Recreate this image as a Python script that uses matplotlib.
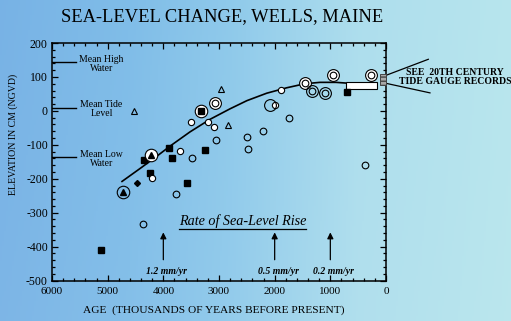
import numpy as np
import matplotlib
matplotlib.use("Agg")
import matplotlib.pyplot as plt
from matplotlib.patches import Rectangle
from matplotlib.ticker import MultipleLocator

plt.rcParams['font.family'] = ['Liberation Serif', 'DejaVu Serif']
plt.rcParams['axes.unicode_minus'] = False

# ---- sample data (age in years BP, elevation in cm NGVD)
sq_age = [5125, 4347, 4239, 3892, 3850, 3569, 3251, 706]
sq_elev = [-409, -146, -182, -108, -138, -213, -114, 56]

dot_age = [4203, 3700, 3508, 3203, 3084, 1988, 1892]
dot_elev = [-197, -118, -34, -34, -48, 17, 61]

ring_age = [4359, 3772, 3491, 3054, 2503, 2473, 2215, 1748, 371]
ring_elev = [-333, -244, -138, -85, -77, -113, -60, -22, -160]

bull_age = [3072, 1455, 957, 275]
bull_elev = [22, 81, 105, 107]

dbl_age = [1323, 1090]
dbl_elev = [58, 54]

tri_age = [4527, 2964, 2833]
tri_elev = [0, 64, -42]

ctri_white_age = [4227]
ctri_white_elev = [-131]
ctri_open_age = [4719]
ctri_open_elev = [-239]

csq_age = [3323]
csq_elev = [0]

dia_age = [4473]
dia_elev = [-214]

big_age = [2085]
big_elev = [17]

# smoothed sea-level curve
curve_age = [4742, 4419, 4119, 3880, 3521, 3162, 2802, 2500, 2143, 1784, 1455, 1186, 900, 724]
curve_elev = [-208, -170, -134, -104, -62, -25, 6, 30, 52, 68, 80, 84, 84, 82]

# late range box and tide gauge box
box_age = [720, 160]
box_elev = [63, 86]
gauge_age = [110, -5]
gauge_elev = [76, 108]

# tidal datums
datum_names = ['Mean High\nWater', 'Mean Tide\nLevel', 'Mean Low\nWater']
datum_elev = [143, 9, -137]

# rate arrows
rate_age = [4000, 2000, 1000]
rate_text = ['1.2 mm/yr', '0.5 mm/yr', '0.2 mm/yr']

x_ticks = [6000, 5000, 4000, 3000, 2000, 1000, 0]
y_ticks = [200, 100, 0, -100, -200, -300, -400, -500]

fig = plt.figure(figsize=(5.11, 3.21), dpi=100)

# blue gradient backdrop
bg = fig.add_axes([0, 0, 1, 1], zorder=-10)
xs = np.linspace(0, 1, 256)
stops = [0.0, 0.25, 0.45, 0.7, 1.0]
cols = np.array([[0.47, 0.70, 0.90],
                 [0.50, 0.74, 0.91],
                 [0.56, 0.79, 0.92],
                 [0.68, 0.87, 0.93],
                 [0.72, 0.90, 0.93]])
row = np.stack([np.interp(xs, stops, cols[:, i]) for i in range(3)], axis=1)
ys = np.linspace(0, 1, 64)[:, None, None]
img = row[None, :, :] * (1 - 0.04 * ys) + 0.04 * ys
bg.imshow(np.clip(img, 0, 1), aspect='auto', extent=[0, 1, 0, 1])
bg.axis('off')

ax = fig.add_axes([52 / 511, 1 - 280.5 / 321, 334 / 511, 237.5 / 321])
ax.set_facecolor('none')
ax.set_xlim(6000, 0)
ax.set_ylim(-500, 200)

kw = dict(linestyle='none', markeredgecolor='black', zorder=4)
ax.plot(curve_age, curve_elev, color='black', lw=1.2, zorder=3)
ax.plot(sq_age, sq_elev, marker='s', ms=4.5, color='black', **kw)
ax.plot(dot_age, dot_elev, marker='o', ms=4.5, markerfacecolor='white', markeredgewidth=0.8, **kw)
ax.plot(ring_age, ring_elev, marker='o', ms=4.8, markerfacecolor='none', markeredgewidth=0.8, **kw)
ax.plot(bull_age, bull_elev, marker='o', ms=8.5, markerfacecolor='white', markeredgewidth=0.8, **kw)
ax.plot(bull_age, bull_elev, marker='o', ms=4.8, markerfacecolor='white', markeredgewidth=0.8, **kw)
ax.plot(dbl_age, dbl_elev, marker='o', ms=8.5, markerfacecolor='none', markeredgewidth=0.8, **kw)
ax.plot(dbl_age, dbl_elev, marker='o', ms=4.8, markerfacecolor='none', markeredgewidth=0.8, **kw)
ax.plot(tri_age, tri_elev, marker='^', ms=4, markerfacecolor='none', markeredgewidth=0.8, **kw)
ax.plot(ctri_white_age, ctri_white_elev, marker='o', ms=9, markerfacecolor='white', markeredgewidth=0.8, **kw)
ax.plot(ctri_white_age, ctri_white_elev, marker='^', ms=4.5, color='black', **kw)
ax.plot(ctri_open_age, ctri_open_elev, marker='o', ms=9, markerfacecolor='none', markeredgewidth=0.8, **kw)
ax.plot(ctri_open_age, ctri_open_elev, marker='^', ms=4.5, color='black', **kw)
ax.plot(csq_age, csq_elev, marker='o', ms=9, markerfacecolor='white', markeredgewidth=0.8, **kw)
ax.plot(csq_age, csq_elev, marker='s', ms=4.5, color='black', **kw)
ax.plot(dia_age, dia_elev, marker='D', ms=3, color='black', **kw)
ax.plot(big_age, big_elev, marker='o', ms=8.5, markerfacecolor='none', markeredgewidth=0.8, **kw)

ax.add_patch(Rectangle((box_age[0], box_elev[0]), box_age[1] - box_age[0], box_elev[1] - box_elev[0],
                       facecolor='white', edgecolor='black', lw=0.8, zorder=3))
ax.add_patch(Rectangle((gauge_age[0], gauge_elev[0]), gauge_age[1] - gauge_age[0],
                       gauge_elev[1] - gauge_elev[0], facecolor='#a8a8a8', edgecolor='#444444',
                       hatch='----', lw=0.7, zorder=5, clip_on=False))

# leader lines and note for tide gauge records
ax.plot([gauge_age[1], -760], [105, 152], color='black', lw=0.9, clip_on=False)
ax.plot([gauge_age[1], -790], [81, 53], color='black', lw=0.9, clip_on=False)
ax.text(-1240, 100, 'SEE  20TH CENTURY\nTIDE GAUGE RECORDS', ha='center', va='center',
        fontsize=7, fontweight='bold', linespacing=1.05, clip_on=False)

# tidal datum markers
for name, lev in zip(datum_names, datum_elev):
    ax.plot([6000, 5560], [lev, lev], color='black', lw=1.0)
    ax.text(5110, lev - 4, name, ha='center', va='center', fontsize=7, linespacing=1.0)

# rate arrows
for age, txt in zip(rate_age, rate_text):
    ax.annotate('', xy=(age, -350), xytext=(age, -447),
                arrowprops=dict(arrowstyle='-|>', color='black', lw=0.9, mutation_scale=9))
    ax.text(age - 60, -472, txt, ha='center', va='center', fontsize=7,
            fontstyle='italic', fontweight='bold')

rate_title = ax.text(2580, -325, 'Rate of Sea-Level Rise', ha='center', va='center',
                     fontsize=10.2, fontstyle='italic')
fig.canvas.draw()
bb = rate_title.get_window_extent().transformed(ax.transData.inverted())
ax.plot([bb.x0, bb.x1], [bb.y0 - 3, bb.y0 - 3], color='black', lw=0.9)

ax.set_xticks(x_ticks)
ax.set_yticks(y_ticks)
ax.xaxis.set_minor_locator(MultipleLocator(200))
ax.yaxis.set_minor_locator(MultipleLocator(20))
ax.tick_params(which='both', direction='in', top=True, right=True, width=0.9)
ax.tick_params(axis='x', labelsize=8, pad=5)
ax.tick_params(axis='y', labelsize=8.5, pad=3)
ax.tick_params(which='major', length=4)
ax.tick_params(which='minor', length=2.5)
for sp in ax.spines.values():
    sp.set_linewidth(1.1)

ax.set_xlabel('AGE  (THOUSANDS OF YEARS BEFORE PRESENT)', fontsize=8.2)
ax.xaxis.set_label_coords((214 - 52) / 334, -0.105)
ax.set_ylabel('ELEVATION IN CM (NGVD)', fontsize=7.1, va='center')
ax.yaxis.set_label_coords(-0.117, 0.613)

fig.text(222 / 511, 1 - 20.7 / 321, 'SEA-LEVEL CHANGE, WELLS, MAINE', ha='center', va='baseline',
         fontsize=13.3)

fig.savefig('out.png', dpi=100)
